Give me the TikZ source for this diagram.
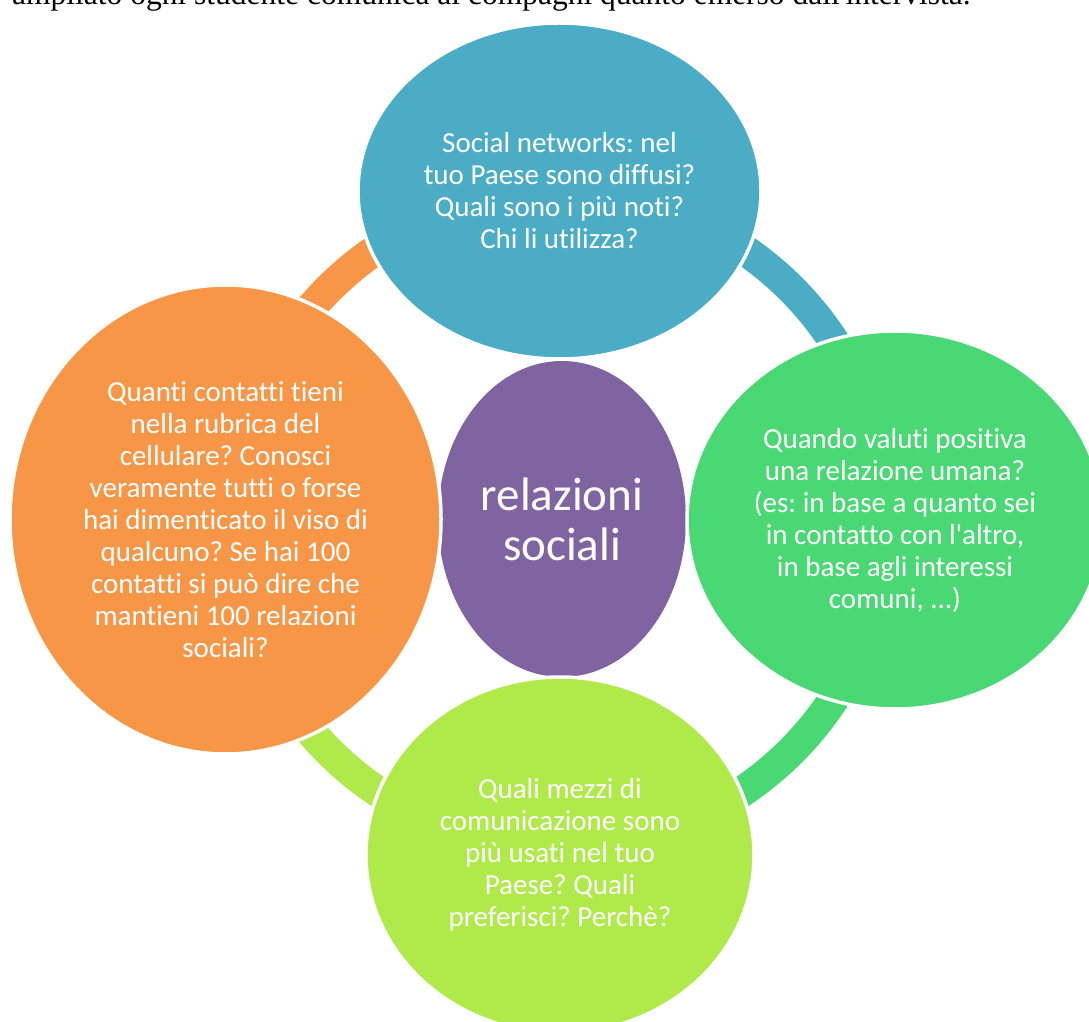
\documentclass[tikz,border=0pt]{standalone}
\usepackage{fontspec}
\setmainfont{Carlito}[Ligatures=NoCommon]
\newfontfamily\introfont{Liberation Serif}
\usetikzlibrary{shapes.geometric}
\frenchspacing

\definecolor{topblue}{RGB}{75,172,198}
\definecolor{leftorange}{RGB}{247,150,70}
\definecolor{rightgreen}{RGB}{74,216,116}
\definecolor{bottomlime}{RGB}{175,234,74}
\definecolor{hubpurple}{RGB}{128,100,162}

\begin{document}
\begin{tikzpicture}[x=1pt,y=1pt,
  bubble/.style={ellipse, draw=white, line width=3.5pt, text=white,
    align=center, inner sep=0pt, font=\fontsize{29}{32}\selectfont},
  hub/.style={ellipse, fill=hubpurple, text=white, align=center,
    inner sep=0pt, font=\fontsize{47}{50}\selectfont},
  ringarc/.style={line width=31pt},
  ]
  \useasboundingbox (0,0) rectangle (1089,1021);
  \clip (0,0) rectangle (1089,1021);

  % line of the page above, cut by the frame
  \node[anchor=base west, inner sep=0pt, font=\introfont\fontsize{31.5}{36}\selectfont]
    (intro) at (12,1016) {ampliato ogni studente comunica ai compagni quanto emerso dall\textquotesingle intervista.};

  \coordinate (centre) at (560,501);
  \coordinate (r-left) at ([shift={(180:327)}]centre);
  \coordinate (r-top) at ([shift={(90:327)}]centre);
  \coordinate (r-right) at ([shift={(0:327)}]centre);
  \coordinate (r-bottom) at ([shift={(-90:327)}]centre);

  % ring pieces, under the bubbles
  \draw[ringarc, leftorange] (r-left) arc[start angle=180, end angle=90, radius=327pt];
  \draw[ringarc, topblue] (r-top) arc[start angle=90, end angle=0, radius=327pt];
  \draw[ringarc, rightgreen] (r-right) arc[start angle=0, end angle=-90, radius=327pt];
  \draw[ringarc, bottomlime] (r-bottom) arc[start angle=-90, end angle=-180, radius=327pt];

  % centre
  \node[hub, minimum width=248pt, minimum height=316pt] (hub) at (562,502)
    {relazioni\\sociali};

  % the four questions
  \node[bubble, fill=topblue, minimum width=403pt, minimum height=336pt] (top) at (559.5,830)
    {Social networks: nel\\tuo Paese sono diffusi?\\Quali sono i più noti?\\Chi li utilizza?};
  \node[bubble, fill=rightgreen, minimum width=416pt, minimum height=378pt] (right) at (895,501)
    {Quando valuti positiva\\una relazione umana?\\(es: in base a quanto sei\\in contatto con l\textquotesingle altro,\\in base agli interessi\\comuni, ...)};
  \node[bubble, fill=bottomlime, minimum width=388pt, minimum height=356pt] (bottom) at (560,166)
    {Quali mezzi di\\comunicazione sono\\più usati nel tuo\\Paese? Quali\\preferisci? Perchè?};
  \node[bubble, fill=leftorange, minimum width=431pt, minimum height=469pt] (left) at (225.5,501.5)
    {Quanti contatti tieni\\nella rubrica del\\cellulare? Conosci\\veramente tutti o forse\\hai dimenticato il viso di\\qualcuno? Se hai 100\\contatti si può dire che\\mantieni 100 relazioni\\sociali?};
\end{tikzpicture}
\end{document}
